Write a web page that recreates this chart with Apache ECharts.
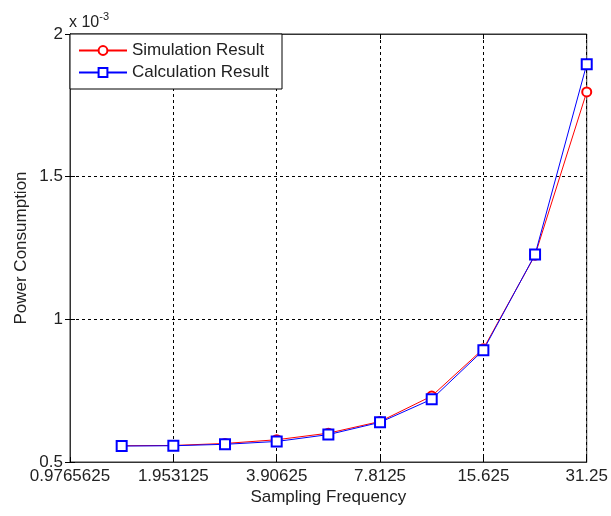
<!DOCTYPE html>
<html>
<head>
<meta charset="utf-8">
<script src="https://cdn.jsdelivr.net/npm/echarts@6/dist/echarts.min.js"></script>
<style>
  html, body { margin: 0; padding: 0; background: #fff; }
  #chart { width: 611px; height: 516px; }
</style>
</head>
<body>
<div id="chart"></div>
<script>
// Sampling frequencies (half-octave steps) and power consumption in units of 1e-3
const baseFreq = 0.9765625;
const frequencies = [1.3811, 1.953125, 2.7621, 3.90625, 5.5243, 7.8125, 11.0485, 15.625, 22.0971, 31.25];
const simulation = [0.557, 0.558, 0.565, 0.578, 0.601, 0.642, 0.731, 0.897, 1.225, 1.797];
const calculation = [0.556, 0.557, 0.562, 0.572, 0.596, 0.639, 0.720, 0.892, 1.227, 1.894];
const xTickLabels = ['0.9765625', '1.953125', '3.90625', '7.8125', '15.625', '31.25'];
const yTicks = [0.5, 1, 1.5, 2];

// x is placed on a base-2 log scale measured in octaves above baseFreq
const octave = f => Math.log2(f / baseFreq);
const toPoints = vals => vals.map((v, i) => [octave(frequencies[i]), v]);

const font = 'Liberation Sans, Arial, sans-serif';
const textColor = '#222';
const chart = echarts.init(document.getElementById('chart'), null, { renderer: 'canvas' });

const gridLine = { show: true, lineStyle: { color: '#000', type: [3, 3], width: 1 } };
const tick = { show: true, inside: true, length: 5, lineStyle: { color: '#000' } };

chart.setOption({
  animation: false,
  backgroundColor: '#fff',
  textStyle: { fontFamily: font },
  title: {
    text: 'x 10{s|-3}',
    left: 69, top: 11, padding: 0,
    textStyle: {
      fontFamily: font, fontSize: 16, fontWeight: 'normal', color: textColor,
      rich: { s: { fontSize: 11, verticalAlign: 'top', padding: [0, 0, 12, 0], color: textColor } }
    }
  },
  grid: { left: 70, right: 24, top: 34, bottom: 54, show: true, borderColor: '#333', borderWidth: 1 },
  legend: {
    left: 70, top: 34, orient: 'vertical',
    backgroundColor: '#fff', borderColor: '#000', borderWidth: 1,
    padding: [8, 13, 8, 8], itemGap: 5, itemWidth: 48, itemHeight: 11,
    textStyle: { fontFamily: font, fontSize: 17, color: textColor },
    data: ['Simulation Result', 'Calculation Result']
  },
  xAxis: [{
    type: 'value', min: 0, max: 5, interval: 1,
    name: 'Sampling Frequency', nameLocation: 'middle', nameGap: 27,
    nameMoveOverlap: false,
    nameTextStyle: { fontFamily: font, fontSize: 17, color: textColor },
    axisLine: { show: true, lineStyle: { color: '#333' } },
    axisTick: tick,
    axisLabel: { fontFamily: font, fontSize: 17, color: textColor, margin: 6,
      formatter: v => xTickLabels[Math.round(v)] },
    splitLine: gridLine
  }, {
    type: 'value', position: 'top', min: 0, max: 5, interval: 1,
    axisLine: { show: true, lineStyle: { color: '#333' } },
    axisTick: tick, axisLabel: { show: false }, splitLine: { show: false }
  }],
  yAxis: [{
    type: 'value', min: 0.5, max: 2, interval: 0.5,
    name: 'Power Consumption', nameLocation: 'middle', nameGap: 40,
    nameMoveOverlap: false,
    nameTextStyle: { fontFamily: font, fontSize: 17, color: textColor },
    axisLine: { show: true, lineStyle: { color: '#333' } },
    axisTick: tick,
    axisLabel: { fontFamily: font, fontSize: 17, color: textColor, margin: 7,
      formatter: v => (yTicks.includes(v) ? String(v) : '') },
    splitLine: gridLine
  }, {
    type: 'value', position: 'right', min: 0.5, max: 2, interval: 0.5,
    axisLine: { show: true, lineStyle: { color: '#333' } },
    axisTick: tick, axisLabel: { show: false }, splitLine: { show: false }
  }],
  series: [{
    name: 'Simulation Result', type: 'line',
    data: toPoints(simulation),
    symbol: 'emptyCircle', symbolSize: 9,
    lineStyle: { color: '#ff0000', width: 1 },
    itemStyle: { color: '#ff0000', borderColor: '#ff0000', borderWidth: 1 }
  }, {
    name: 'Calculation Result', type: 'line',
    data: toPoints(calculation),
    symbol: 'emptyRect', symbolSize: 10,
    lineStyle: { color: '#0000ff', width: 1 },
    itemStyle: { color: '#0000ff', borderColor: '#0000ff', borderWidth: 1 }
  }]
});
</script>
</body>
</html>
